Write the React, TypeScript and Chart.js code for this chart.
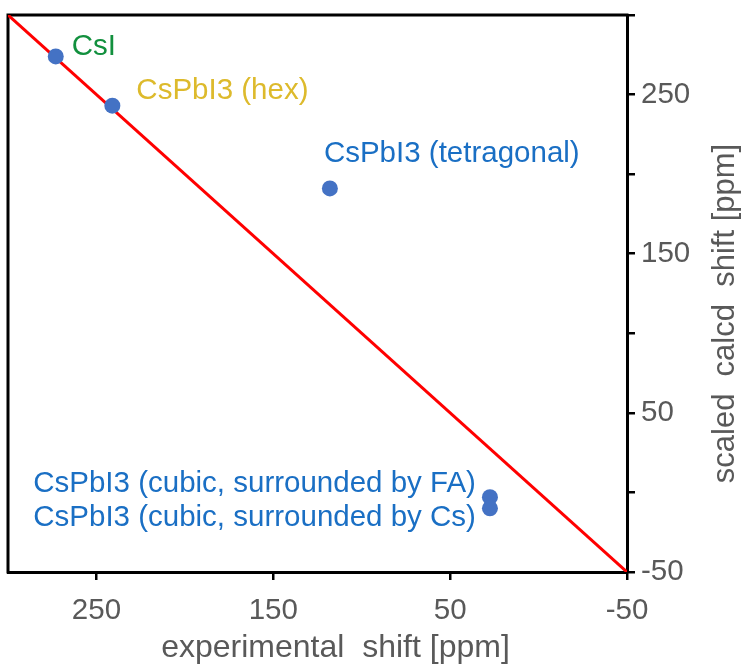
import { useEffect, useRef } from 'react';
import { Chart, registerables } from 'chart.js';

Chart.register(...registerables);

// Cs-133 shifts: experiment vs. scaled calculation
const COMPOUNDS = [
  'CsI',
  'CsPbI3 (hex)',
  'CsPbI3 (tetragonal)',
  'CsPbI3 (cubic, surrounded by FA)',
  'CsPbI3 (cubic, surrounded by Cs)',
];
const EXPERIMENTAL_SHIFT = [273, 241, 118, 27.5, 27.5];
const CALCULATED_SHIFT = [274, 243, 191, -3, -10];
const LABEL_COLORS = ['#12903E', '#DDBA2C', '#1A6FC4', '#1A6FC4', '#1A6FC4'];

// ideal agreement line y = x across the full range
const PARITY_RANGE = [300, -50];

const X_TICKS = [250, 150, 50, -50];
const Y_TICKS = [-50, 0, 50, 100, 150, 200, 250, 300];
const Y_TICK_LABELS = [-50, 50, 150, 250];

const X_TITLE = 'experimental  shift [ppm]';
const Y_TITLE = 'scaled  calcd  shift [ppm]';

// where each compound name sits relative to its point (pixels)
const LABEL_PLACEMENT: { dx: number; dy: number; align: CanvasTextAlign }[] = [
  { dx: 16, dy: -10, align: 'left' },
  { dx: 24, dy: -15, align: 'left' },
  { dx: -6, dy: -35, align: 'left' },
  { dx: -14, dy: -13, align: 'right' },
  { dx: -14, dy: 10, align: 'right' },
];

const FONT = '"Liberation Sans", Arial, sans-serif';
const GREY = '#595959';

const annotations = {
  id: 'annotations',
  beforeDatasetsDraw(chart: Chart) {
    const { ctx, chartArea: a } = chart;
    ctx.save();
    ctx.strokeStyle = '#000';
    ctx.lineWidth = 3;
    ctx.beginPath();
    ctx.moveTo(a.left, a.bottom + 1.5);
    ctx.lineTo(a.left, a.top);
    ctx.lineTo(a.right + 1.5, a.top);
    ctx.stroke();
    ctx.restore();
  },
  afterDatasetsDraw(chart: Chart) {
    const { ctx, chartArea: a, scales } = chart;
    const xs = scales.x;
    const ys = scales.y;
    ctx.save();
    ctx.font = `29.5px ${FONT}`;
    ctx.textBaseline = 'middle';
    COMPOUNDS.forEach((name, i) => {
      const p = LABEL_PLACEMENT[i];
      const px = xs.getPixelForValue(EXPERIMENTAL_SHIFT[i]);
      const py = ys.getPixelForValue(CALCULATED_SHIFT[i]);
      ctx.fillStyle = LABEL_COLORS[i];
      ctx.textAlign = p.align;
      ctx.fillText(name, px + p.dx, py + p.dy);
    });

    ctx.fillStyle = GREY;
    ctx.font = `32px ${FONT}`;
    ctx.textAlign = 'center';
    ctx.textBaseline = 'alphabetic';
    ctx.fillText(X_TITLE, (a.left + a.right) / 2 + 18, 657);

    ctx.font = `31px ${FONT}`;
    ctx.translate(734, (a.top + a.bottom) / 2 + 20);
    ctx.rotate(-Math.PI / 2);
    ctx.fillText(Y_TITLE, 0, 0);
    ctx.restore();
  },
};

export default function App() {
  const canvasRef = useRef<HTMLCanvasElement | null>(null);

  useEffect(() => {
    document.body.style.margin = '0';
    const canvas = canvasRef.current;
    if (!canvas) return;

    const axisLine = {
      drawOnChartArea: false,
      drawTicks: true,
      tickLength: 8,
      color: '#000',
      lineWidth: 2.5,
    };

    const chart = new Chart(canvas, {
      type: 'scatter',
      data: {
        datasets: [
          {
            type: 'scatter',
            label: 'shifts',
            data: EXPERIMENTAL_SHIFT.map((x, i) => ({ x, y: CALCULATED_SHIFT[i] })),
            backgroundColor: '#4472C4',
            borderWidth: 0,
            pointRadius: 8,
            order: 1,
          },
          {
            type: 'line',
            label: 'y = x',
            data: PARITY_RANGE.map((v) => ({ x: v, y: v })),
            borderColor: '#FF0000',
            borderWidth: 3,
            pointRadius: 0,
            fill: false,
            order: 2,
          },
        ],
      },
      options: {
        responsive: false,
        animation: false,
        events: [],
        layout: { padding: { left: 8, top: 15, right: 0, bottom: 0 } },
        plugins: {
          legend: { display: false },
          tooltip: { enabled: false },
        },
        scales: {
          x: {
            type: 'linear',
            reverse: true,
            min: -50,
            max: 300,
            afterBuildTicks: (scale: any) => {
              scale.ticks = X_TICKS.map((value) => ({ value }));
            },
            afterFit: (scale: any) => {
              scale.height = 97;
              scale.paddingLeft = 0;
              scale.paddingRight = 0;
            },
            grid: axisLine,
            border: { display: true, color: '#000', width: 3 },
            ticks: {
              color: GREY,
              font: { family: FONT, size: 29.5 },
              padding: 13,
              maxRotation: 0,
              autoSkip: false,
            },
          },
          y: {
            type: 'linear',
            position: 'right',
            min: -50,
            max: 300,
            afterBuildTicks: (scale: any) => {
              scale.ticks = Y_TICKS.map((value) => ({ value }));
            },
            afterFit: (scale: any) => {
              scale.width = 120;
              scale.paddingTop = 0;
              scale.paddingBottom = 0;
            },
            grid: axisLine,
            border: { display: true, color: '#000', width: 3 },
            ticks: {
              color: GREY,
              font: { family: FONT, size: 29.5 },
              padding: 6,
              autoSkip: false,
              callback: (v: any) => (Y_TICK_LABELS.includes(Number(v)) ? String(v) : ''),
            },
          },
        },
      },
      plugins: [annotations],
    });

    return () => chart.destroy();
  }, []);

  return (
    <div style={{ position: 'absolute', left: 0, top: 0, width: 747, height: 669 }}>
      <canvas ref={canvasRef} width={747} height={669} />
    </div>
  );
}
